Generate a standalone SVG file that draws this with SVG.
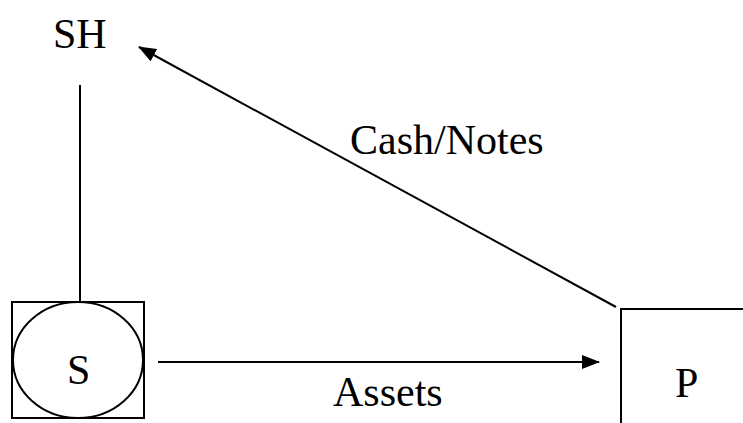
<svg xmlns="http://www.w3.org/2000/svg" width="743" height="423" viewBox="0 0 743 423">
<defs>
<style>
text{font-family:"Liberation Serif","Times New Roman",serif;font-size:42px;fill:#000}
.ln{stroke:#000;stroke-width:2;fill:none}
</style>
<marker id="ah" markerWidth="18" markerHeight="14" refX="17" refY="7" orient="auto" markerUnits="userSpaceOnUse">
<path d="M0,0 L18,7 L0,14 Z" fill="#000"/>
</marker>
</defs>
<rect width="743" height="423" fill="#fff"/>
<g id="SH"><text x="53" y="48">SH</text></g>
<g id="S">
<rect class="ln" x="12" y="302" width="132" height="116"/>
<ellipse class="ln" cx="78" cy="360" rx="65" ry="58"/>
<text x="67" y="384">S</text>
</g>
<g id="P">
<polyline class="ln" points="621,423 621,309 743,309"/>
<text x="675" y="397">P</text>
</g>
<g id="connectors">
<line class="ln" x1="616" y1="307" x2="139" y2="47" marker-end="url(#ah)"/>
<line class="ln" x1="80" y1="85" x2="80" y2="302"/>
<line class="ln" x1="158" y1="362" x2="599" y2="362" marker-end="url(#ah)"/>
<text x="350" y="154">Cash/Notes</text>
<text x="333" y="406">Assets</text>
</g>
</svg>
